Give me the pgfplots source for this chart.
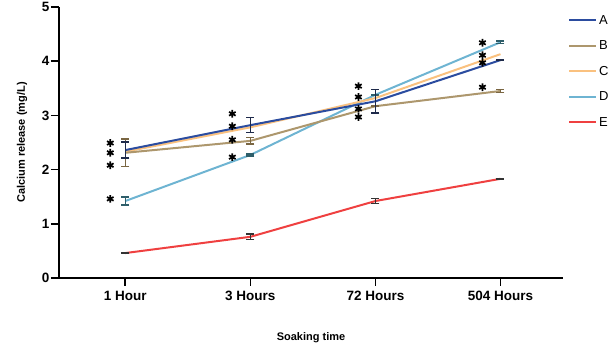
\documentclass[border=0pt]{standalone}
\usepackage{pgfplots}
\pgfplotsset{compat=1.18}
\usepackage{fontspec}
\setmainfont{Liberation Sans}
\definecolor{cA}{HTML}{2B4C9F}
\definecolor{cB}{HTML}{AD976D}
\definecolor{cC}{HTML}{FAC17F}
\definecolor{cD}{HTML}{6EB4D2}
\definecolor{cE}{HTML}{EF4040}
\definecolor{eA}{HTML}{1E2A4A}
\definecolor{eB}{HTML}{7A6642}
\definecolor{eD}{HTML}{2E5E6A}
\definecolor{eE}{HTML}{333333}
\begin{document}
\begin{tikzpicture}
\begin{axis}[
  scale only axis, width=504pt, height=271pt,
  xmin=-0.53, xmax=3.5, ymin=0, ymax=5,
  axis lines=left, axis line style={line width=1.6pt, -},
  xtick={0,1,2,3}, xticklabels={1 Hour,3 Hours,72 Hours,504 Hours},
  ytick={0,1,2,3,4,5},
  tick style={line width=1.6pt, black}, tick align=outside, major tick length=8pt,
  ticklabel style={font=\fontsize{13.5}{15}\selectfont\bfseries},
  /pgf/number format/assume math mode=true,
  xticklabel style={yshift=-2pt},
  yticklabel style={xshift=2pt},
  xlabel={Soaking time}, ylabel={Calcium release (mg/L)},
  xlabel style={at={(axis description cs:0.5,-0.2214)}, anchor=center, font=\fontsize{11}{13}\selectfont\bfseries},
  ylabel style={at={(axis description cs:-0.0734,0.5)}, anchor=center, font=\fontsize{11}{13}\selectfont\bfseries},
  legend style={at={(1,1)}, anchor=north west, xshift=5pt, yshift=-6pt, draw=none, fill=none,
    font=\fontsize{13}{15}\selectfont, row sep=11pt, inner sep=0pt, cells={anchor=west}},
  legend image code/.code={\draw[#1, line width=2pt] (0pt,0pt) -- (20pt,0pt); \path (0pt,0pt) -- (27pt,0pt);},
  reverse legend,
  clip=false,
]
\addplot[cE, line width=2pt, mark=none, error bars/.cd, y dir=both, y explicit,
  error bar style={line width=1.5pt, color=eE}, error mark options={rotate=90, mark size=4pt, line width=1.5pt, color=eE}]
  coordinates {(0,0.46) +- (0,0.01) (1,0.76) +- (0,0.05) (2,1.42) +- (0,0.05) (3,1.83) +- (0,0)};
\addlegendentry{E}
\addplot[cD, line width=2pt, mark=none, error bars/.cd, y dir=both, y explicit,
  error bar style={line width=1.5pt, color=eD}, error mark options={rotate=90, mark size=4pt, line width=1.5pt, color=eD}]
  coordinates {(0,1.42) +- (0,0.07) (1,2.27) +- (0,0.02) (2,3.38) +- (0,0) (3,4.35) +- (0,0.02)};
\addlegendentry{D}
\addplot[cC, line width=2pt, mark=none]
  coordinates {(0,2.33) (1,2.78) (2,3.32) (3,4.13)};
\addlegendentry{C}
\addplot[cB, line width=2pt, mark=none, error bars/.cd, y dir=both, y explicit,
  error bar style={line width=1.5pt, color=eB}, error mark options={rotate=90, mark size=4pt, line width=1.5pt, color=eB}]
  coordinates {(0,2.31) +- (0,0.25) (1,2.53) +- (0,0.06) (2,3.17) +- (0,0) (3,3.45) +- (0,0.03)};
\addlegendentry{B}
\addplot[cA, line width=2pt, mark=none, error bars/.cd, y dir=both, y explicit,
  error bar style={line width=1.5pt, color=eA}, error mark options={rotate=90, mark size=4pt, line width=1.5pt, color=eA}]
  coordinates {(0,2.36) +- (0,0.15) (1,2.82) +- (0,0.14) (2,3.26) +- (0,0.22) (3,4.02) +- (0,0)};
\addlegendentry{A}
\addplot[forget plot, only marks, mark=asterisk, mark size=3.8pt, black,
  mark options={line width=1.7pt}]
  coordinates {(-0.12,2.49) (-0.12,2.31) (-0.12,2.08) (-0.12,1.46)
               (0.856,3.03) (0.856,2.80) (0.856,2.55) (0.856,2.23)
               (1.864,3.54) (1.864,3.34) (1.864,3.12) (1.864,2.97)
               (2.856,4.34) (2.856,4.11) (2.856,3.97) (2.856,3.52)};
\end{axis}
\pgfresetboundingbox
\path[use as bounding box] ([xshift=-59pt,yshift=-80pt]current axis.south west) rectangle ([xshift=50pt,yshift=7pt]current axis.north east);
\end{tikzpicture}
\end{document}
